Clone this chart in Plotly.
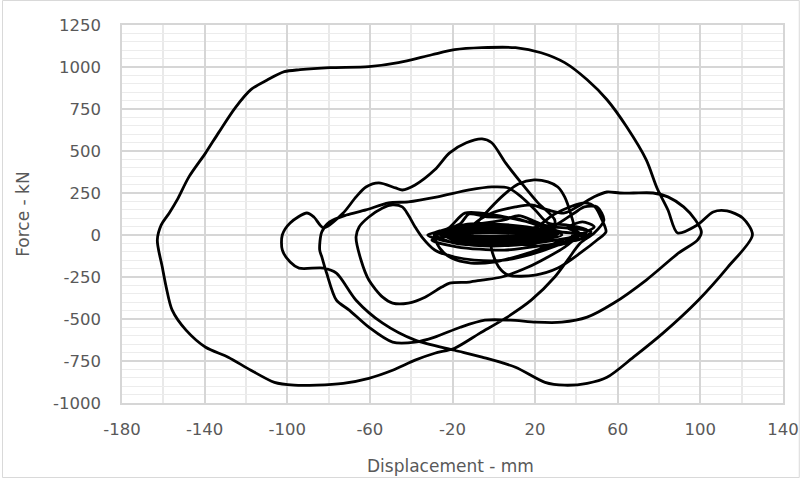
import plotly.graph_objects as go

# ---- data (displacement in mm, force in kN) ----
# dense small cycles near the origin
blob_disp = [-25, -10, 5, 20, 30, 15, 0, -15,
             -24, -10, 5, 20, 29, 14, -2, -16,
             -23, -8, 6, 21, 28, 12, -3, -17,
             -22, -6, 8, 22, 27, 10, -4, -18,
             -26, -12, 4, 20, 30, 12, -2, -18,
             -27, -14, -2, 16, 31, 20, 2, -15,
             -25, -16, -12, -4, 10, 25, 33, 18, -2, -20,
             -28, -20, -10, 5, 12, 20, 32, 45, 35, 15, -5, -22,
             -32, -22, -14, 0, 12, 28, 47, 43, 25, 5, -18, -30,
             -10]
blob_force = [0, 55, 60, 35, 0, -45, -52, -40,
              5, 42, 48, 28, -3, -35, -42, -30,
              2, 32, 36, 20, -2, -25, -30, -20,
              4, 20, 24, 12, -4, -14, -18, -10,
              -2, 12, 12, 5, -6, -5, -8, -3,
              6, 62, 66, 48, 4, -30, -58, -50,
              10, 70, 125, 110, 100, 40, 0, -40, -60, -45,
              0, 25, 60, 90, 115, 80, 20, 5, -20, -55, -65, -40,
              0, 40, 130, 120, 90, 50, 20, -20, -60, -90, -70, -30,
              10]

# loop peaking near +320 kN
c320_disp = [-14.3, -4.8, 4.8, 11.9, 19.5, 26.2, 31.0, 34.3, 37.1, 39.0, 35.7, 26.2, 9.5]
c320_force = [-18, 119, 239, 304, 328, 316, 286, 227, 131, 30, -42, -66, -48]

# loop dipping to -240 kN and right-hand small loop
cmid_disp = [-1.0, -1.0, 2.4, 7.1, 20.0, 31.0, 41.9, 50.0, 54.3, 52.4, 49.0, 44.3, 36.7, 28.6, 19.5]
cmid_force = [-18, -89, -191, -239, -239, -197, -107, -30, 18, 89, 167, 191, 167, 119, 42]

# ring just below the dense core
ring_disp = [-28.6, -26.2, -20.5, -11.0, 0.0, 11.9, 23.8, 33.3, 41.4, 35.7]
ring_force = [12, -78, -137, -167, -161, -125, -78, -30, 12, 42]

# loop dipping to -400 kN
c400_disp = [42.9, 48.6, 41.9, 34.3, 26.2, 16.7, 3.8, -5.7, -11.9, -21.4,
             -25.2, -33.3, -41.4, -49.0, -53.8, -60.5, -64.3, -66.7, -65.2, -60.5,
             -53.8, -49.0, -44.3, -41.4, -38.1, -34.8, -28.6, -19.0, -9.5, 5.0,
             18.0, 30.0, 40.0, 45.0, 35.0]
c400_force = [78, 48, 0, -72, -131, -191, -250, -268, -280, -286,
              -310, -370, -405, -405, -370, -268, -149, -12, 48, 107,
              161, 179, 167, 119, 48, -12, -89, -131, -149, -150,
              -115, -65, -10, 30, 60]

# long upper line and loop dipping to -640 kN
c640_disp = [26.2, 20.0, 13.3, 7.1, -1.0, -11.9, -27.2, -41.4, -51.0, -61.9,
             -71.4, -79.5, -83.3, -84.3, -83.3, -80.9, -76.2, -70.0, -60.5, -49.0,
             -38.1, -28.6, -16.2, -4.3, 8.1, 20.5, 32.9, 45.2, 58.1, 73.8,
             89.5, 98.6, 100.5, 97.6, 91.9, 84.3, 77.1, 67.6, 61.0, 54.8,
             48.6, 41.9, 34.3, 26.2, 18.1, 10.5, -1.0, -9.5]
c640_force = [72, 149, 227, 280, 286, 268, 227, 197, 191, 149,
              119, 78, 18, -89, -129, -228, -388, -447, -549, -638,
              -638, -608, -549, -507, -507, -519, -519, -489, -405, -268,
              -107, -30, 18, 89, 167, 227, 250, 250, 250, 256,
              227, 179, 131, 149, 179, 167, 131, 60]

# largest cycles, small left loop and the +560 kN hump
big_disp = [20.0, 30.0, 39.0, 43.8, 50.0, 53.3, 48.6, 41.9, 35.7, 29.5,
            18.1, 5.7, -6.7, -19.0, -28.6, -38.1, -49.0, -60.5, -72.9, -85.7,
            -96.7, -106.2, -117.6, -128.6, -139.5, -149.0, -155.7, -158.6, -160.5, -162.9,
            -161.0, -157.1, -153.3, -147.6, -139.5, -133.3, -125.2, -117.6, -109.5, -101.4,
            -93.8, -79.5, -60.5, -46.2, -30.0, -19.0, -5.7, 10.5, 22.9, 34.3,
            45.2, 54.8, 64.3, 73.8, 79.0, 84.3, 89.0, 98.6, 106.2, 112.9,
            120.5, 125.2, 113.3, 99.0, 81.9, 67.6, 54.8, 45.2, 34.3, 24.8,
            10.5, -5.7, -19.0, -38.1, -53.8, -66.7, -76.2, -82.4, -94.3, -98.6,
            -102.4, -102.4, -98.6, -90.5, -87.1, -82.4, -72.9, -66.7, -61.9, -55.7,
            -47.6, -44.3, -38.1, -28.6, -21.4, -13.3, -5.7, -1.0, 5.7, 13.3,
            21.4, 29.5, 28.6]
big_force = [10, 60, 131, 167, 167, 89, 12, -48, -149, -250,
             -388, -495, -584, -674, -704, -745, -805, -853, -883, -894,
             -894, -877, -805, -727, -668, -566, -447, -310, -191, -30,
             60, 131, 209, 346, 489, 608, 757, 865, 924, 972,
             984, 996, 1002, 1026, 1073, 1103, 1115, 1115, 1085, 1026,
             924, 805, 644, 447, 280, 149, 12, 60, 137, 143,
             101, 0, -191, -388, -584, -727, -847, -883, -894, -877,
             -787, -727, -686, -626, -525, -388, -227, -197, -197, -161,
             -89, 0, 72, 131, 107, 42, 131, 227, 286, 310,
             280, 268, 298, 388, 489, 549, 572, 549, 429, 310,
             191, 89, 0]

x_ticks = [-180, -140, -100, -60, -20, 20, 60, 100, 140]
y_ticks = [-1000, -750, -500, -250, 0, 250, 500, 750, 1000, 1250]

displacement = (blob_disp + c320_disp + cmid_disp + ring_disp +
                c400_disp + c640_disp + big_disp)
force = (blob_force + c320_force + cmid_force + ring_force +
         c400_force + c640_force + big_force)

FONT = "DejaVu Sans"
GREY = "#595959"

fig = go.Figure()
fig.add_trace(go.Scatter(
    x=displacement, y=force, mode="lines",
    line=dict(color="#000000", width=2.8, shape="spline", smoothing=0.8),
    hoverinfo="skip", showlegend=False))

fig.update_layout(
    width=811, height=478,
    margin=dict(l=122, r=17, t=25, b=75),
    paper_bgcolor="white", plot_bgcolor="white",
    font=dict(family=FONT, color=GREY),
    showlegend=False,
    xaxis=dict(range=[-180, 140], tickmode="array", tickvals=x_ticks,
               ticktext=[str(v) for v in x_ticks],
               showgrid=True, gridcolor="#d6d6d6", gridwidth=1.5,
               zeroline=False, showline=True, linecolor="#d6d6d6", linewidth=1.5, mirror=True,
               ticks="outside", ticklen=10, tickcolor="rgba(0,0,0,0)",
               tickfont=dict(family=FONT, size=16.5, color=GREY),
               minor=dict(tick0=-180, dtick=20, showgrid=True,
                          gridcolor="#e9e9e9", gridwidth=1.5)),
    yaxis=dict(range=[-1000, 1250], tickmode="array", tickvals=y_ticks,
               ticktext=[str(v) for v in y_ticks],
               showgrid=True, gridcolor="#d6d6d6", gridwidth=1.5,
               zeroline=False, showline=True, linecolor="#d6d6d6", linewidth=1.5, mirror=True,
               ticks="outside", ticklen=16, tickcolor="rgba(0,0,0,0)",
               tickfont=dict(family=FONT, size=16.5, color=GREY),
               minor=dict(tick0=-1000, dtick=50, showgrid=True,
                          gridcolor="#ececec", gridwidth=1.3)),
    annotations=[
        dict(text="Displacement - mm", xref="paper", yref="paper",
             x=0.497, y=-0.1667, xanchor="center", yanchor="middle",
             showarrow=False, font=dict(family=FONT, size=17, color=GREY)),
        dict(text="Force - kN", xref="paper", yref="paper",
             x=-0.150, y=0.5, xanchor="center", yanchor="middle", textangle=-90,
             showarrow=False, font=dict(family=FONT, size=17, color=GREY)),
    ],
    shapes=[dict(type="rect", xref="paper", yref="paper",
                 x0=-0.1808, x1=1.0246, y0=-0.1971, y1=1.0648,
                 line=dict(color="#d9d9d9", width=1), fillcolor="rgba(0,0,0,0)",
                 layer="below")],
)

fig.write_html("out.html")
